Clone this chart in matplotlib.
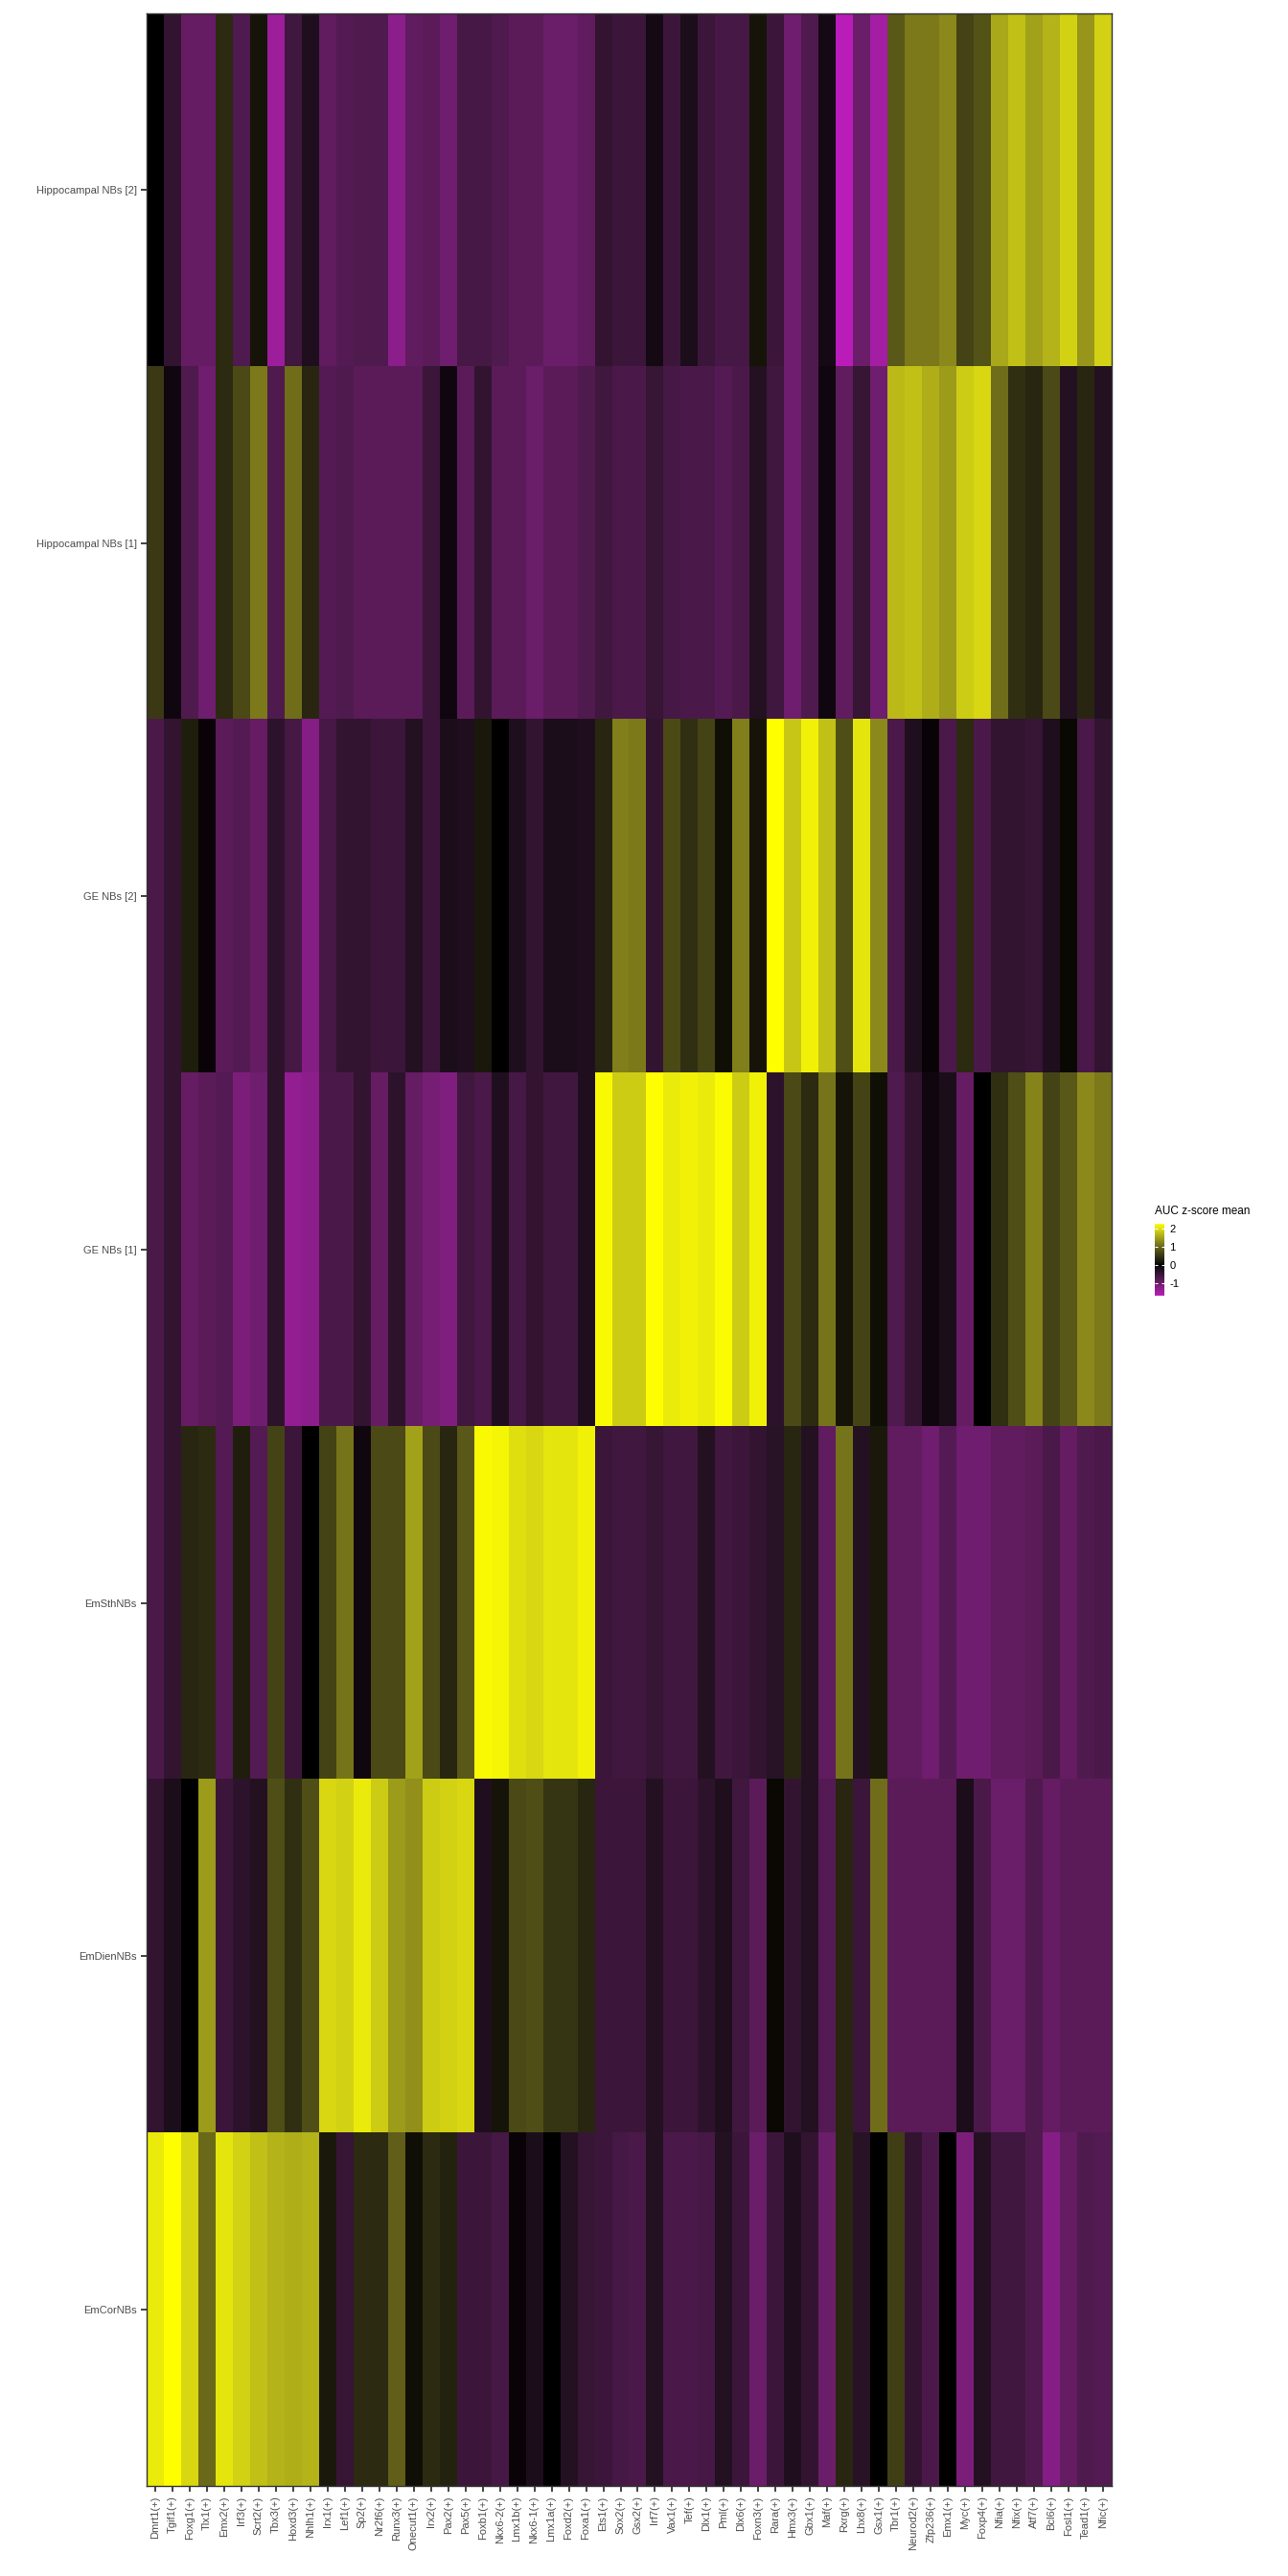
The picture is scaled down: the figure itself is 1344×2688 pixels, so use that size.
import numpy as np
import matplotlib
matplotlib.use("Agg")
import matplotlib.pyplot as plt
from matplotlib.colors import ListedColormap

plt.rcParams['font.family'] = ['Liberation Sans', 'DejaVu Sans']
plt.rcParams['axes.unicode_minus'] = False

regulons = ["Dmrt1", "Tgif1", "Foxg1", "Tlx1", "Emx2", "Irf3", "Scrt2", "Tbx3", "Hoxd3", "Nhlh1",
            "Irx1", "Lef1", "Sp2", "Nr2f6", "Runx3", "Onecut1", "Irx2", "Pax2", "Pax5", "Foxb1",
            "Nkx6-2", "Lmx1b", "Nkx6-1", "Lmx1a", "Foxd2", "Foxa1", "Ets1", "Sox2", "Gsx2", "Irf7",
            "Vax1", "Tef", "Dlx1", "Pml", "Dlx6", "Foxn3", "Rara", "Hmx3", "Gbx1", "Maf",
            "Rxrg", "Lhx8", "Gsx1", "Tbr1", "Neurod2", "Zfp236", "Emx1", "Myc", "Foxp4", "Nfia",
            "Nfix", "Atf7", "Bcl6", "Fosl1", "Tead1", "Nfic"]
regulon_labels = [r + "(+)" for r in regulons]

groups = ["Hippocampal NBs [2]", "Hippocampal NBs [1]", "GE NBs [2]", "GE NBs [1]",
          "EmSthNBs", "EmDienNBs", "EmCorNBs"]

hippo2 = [0.0, -0.45, -0.95, -0.95, 0.4, -0.75, 0.15, -1.45, -0.6, -0.25,
          -0.9, -0.8, -0.75, -0.75, -1.3, -0.9, -0.85, -1.05, -0.65, -0.65,
          -0.75, -0.85, -0.85, -1.0, -1.0, -0.9, -0.45, -0.55, -0.55, -0.15,
          -0.55, -0.2, -0.55, -0.65, -0.65, 0.15, -0.55, -1.05, -0.75, -0.15,
          -1.7, -1.0, -1.5, 0.85, 1.15, 1.15, 1.3, 0.65, 0.8, 1.55,
          1.75, 1.5, 1.65, 1.9, 1.4, 1.9]
hippo1 = [0.55, -0.1, -0.75, -1.05, 0.4, 0.7, 1.15, -0.75, 1.05, 0.35,
          -0.8, -0.75, -0.85, -0.85, -0.85, -0.85, -0.55, -0.1, -0.85, -0.45,
          -0.85, -0.85, -1.0, -0.85, -0.85, -0.75, -0.6, -0.7, -0.7, -0.5,
          -0.65, -0.7, -0.7, -0.8, -0.7, -0.3, -0.6, -1.05, -0.75, -0.1,
          -0.9, -0.5, -1.05, 1.7, 1.75, 1.6, 1.45, 1.85, 1.95, 1.05,
          0.45, 0.35, 0.7, -0.3, 0.35, -0.3]
ge2 = [-0.7, -0.45, 0.25, -0.05, -0.85, -0.8, -0.95, -0.4, -0.65, -1.25,
       -0.65, -0.45, -0.45, -0.55, -0.55, -0.3, -0.55, -0.2, -0.25, 0.2,
       0.0, -0.25, -0.45, -0.2, -0.2, -0.25, 0.35, 1.2, 1.15, -0.45,
       0.7, 0.45, 0.65, 0.1, 1.2, 0.15, 2.26, 1.8, 2.15, 1.75,
       0.75, 2.05, 1.3, -0.7, -0.25, -0.05, -0.7, 0.4, -0.7, -0.45,
       -0.45, -0.5, -0.25, 0.05, -0.7, -0.45]
ge1 = [-0.7, -0.45, -0.95, -0.85, -0.8, -1.15, -1.05, -0.4, -1.35, -1.3,
       -0.7, -0.7, -0.45, -0.95, -0.4, -0.95, -1.1, -1.2, -0.6, -0.7,
       -0.25, -0.65, -0.45, -0.6, -0.6, -0.25, 2.2, 1.85, 1.85, 2.26,
       2.1, 2.15, 2.1, 2.22, 1.85, 2.15, -0.4, 0.7, 0.4, 1.1,
       0.15, 0.65, 0.1, -0.75, -0.45, -0.1, -0.2, -0.95, 0.0, 0.45,
       0.75, 1.25, 0.65, 0.85, 1.3, 1.15]
emsth = [-0.7, -0.45, 0.35, 0.4, -0.8, 0.25, -0.8, 0.65, -0.55, 0.0,
         0.65, 1.1, -0.1, 0.7, 0.7, 1.5, 0.7, 0.35, 0.85, 2.2,
         2.18, 2.0, 1.95, 2.05, 2.05, 2.15, -0.55, -0.6, -0.6, -0.5,
         -0.6, -0.6, -0.3, -0.6, -0.55, -0.45, -0.35, 0.35, -0.3, -0.9,
         1.1, -0.3, 0.2, -0.9, -0.9, -1.05, -0.8, -1.05, -1.05, -0.9,
         -0.9, -0.85, -0.7, -0.95, -0.75, -0.7]
emdien = [-0.45, -0.2, 0.0, 1.45, -0.55, -0.4, -0.3, 0.75, 0.45, 0.75,
          1.95, 1.9, 2.1, 1.85, 1.45, 1.35, 1.85, 1.9, 1.95, -0.25,
          0.15, 0.7, 0.75, 0.5, 0.5, 0.35, -0.55, -0.55, -0.55, -0.3,
          -0.55, -0.55, -0.4, -0.25, -0.6, -0.85, 0.05, -0.45, -0.3, -0.8,
          0.35, -0.55, 1.05, -0.85, -0.85, -0.85, -0.85, -0.2, -0.7, -1.0,
          -1.0, -0.75, -0.95, -0.85, -0.85, -0.85]
emcor = [2.1, 2.26, 1.95, 1.0, 2.05, 1.9, 1.75, 1.65, 1.6, 1.65,
         0.2, -0.5, 0.4, 0.4, 0.9, 0.1, 0.4, 0.3, -0.55, -0.55,
         -0.65, -0.05, -0.2, 0.0, -0.3, -0.5, -0.55, -0.65, -0.7, -0.3,
         -0.7, -0.7, -0.65, -0.3, -0.55, -1.0, -0.55, -0.25, -0.45, -1.0,
         0.35, -0.35, 0.0, 0.6, -0.45, -0.7, 0.0, -1.15, -0.3, -0.6,
         -0.6, -0.75, -1.25, -0.95, -0.75, -0.8]

data = np.array([hippo2, hippo1, ge2, ge1, emsth, emdien, emcor])


# magenta - black - yellow, interpolated in Lab like ggplot's gradient2
def lab2rgb(lab):
    L, a, b = lab[:, 0], lab[:, 1], lab[:, 2]
    fy = (L + 16) / 116
    fx = fy + a / 500
    fz = fy - b / 200

    def finv(f):
        return np.where(f ** 3 > 0.008856, f ** 3, (f - 16 / 116) / 7.787)

    xyz = np.stack([0.95047 * finv(fx), finv(fy), 1.08883 * finv(fz)], axis=1)
    m = np.array([[3.2406, -1.5372, -0.4986],
                  [-0.9689, 1.8758, 0.0415],
                  [0.0557, -0.2040, 1.0570]])
    rgb = np.clip(xyz @ m.T, 0, 1)
    rgb = np.where(rgb <= 0.0031308, 12.92 * rgb, 1.055 * rgb ** (1 / 2.4) - 0.055)
    return np.clip(rgb, 0, 1)


vmin, vmax = data.min(), data.max()
half = max(abs(vmin), abs(vmax))
vals = np.linspace(vmin, vmax, 256) / half
yellow = np.array([97.14, -21.55, 94.48])
magenta = np.array([60.32, 98.23, -60.82])
lab = np.where(vals[:, None] >= 0, vals[:, None] * yellow, -vals[:, None] * magenta)
cmap = ListedColormap(lab2rgb(lab))

fig = plt.figure(figsize=(13.44, 26.88), dpi=100)
ax = fig.add_axes([153 / 1344, 1 - 2594 / 2688, 1007 / 1344, 2580 / 2688])
im = ax.imshow(data, cmap=cmap, vmin=vmin, vmax=vmax, aspect='auto', interpolation='nearest')

ax.set_xticks(np.arange(len(regulons)))
ax.set_xticklabels(regulon_labels, rotation=90)
ax.set_yticks(np.arange(len(groups)))
ax.set_yticklabels(groups)
ax.tick_params(axis='both', labelsize=8, labelcolor='#4d4d4d', color='#333333',
               length=4.5, width=1.3, pad=3)
for s in ax.spines.values():
    s.set_color('#333333')
    s.set_linewidth(1.0)

cax = fig.add_axes([1205 / 1344, 1 - 1352 / 2688, 10 / 1344, 75 / 2688])
cb = fig.colorbar(im, cax=cax, ticks=[-1, 0, 1, 2])
cb.outline.set_visible(False)
cb.ax.tick_params(direction='in', color='white', length=2.5, width=0.8,
                  left=True, right=True, labelsize=8, pad=4)
fig.text(1205 / 1344, 1 - 1264 / 2688, "AUC z-score mean", fontsize=8.5, va='center', ha='left')

fig.savefig("out.png", dpi=100)
